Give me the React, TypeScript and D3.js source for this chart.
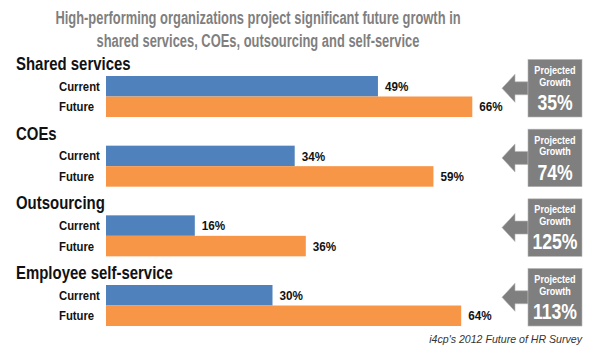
import React from "react";
import * as d3 from "d3";

const titleLines = [
  "High-performing organizations project significant future growth in",
  "shared services, COEs, outsourcing and self-service",
];
const categories = ["Shared services", "COEs", "Outsourcing", "Employee self-service"];
const seriesNames = ["Current", "Future"];
const currentValues = [49, 34, 16, 30];
const futureValues = [66, 59, 36, 64];
const projectedGrowth = [35, 74, 125, 113];
const boxLabel = ["Projected", "Growth"];
const sourceNote = "i4cp's 2012 Future of HR Survey";

const W = 600;
const H = 358;
const FONT = "'Liberation Sans', Arial, Helvetica, sans-serif";
const COLORS = ["#4f81bd", "#f79646"];
const GRAY = "#7f7f7f";

export default function App() {
  const x = d3.scaleLinear().domain([0, 100]).range([106, 661]);
  const yGroup = d3
    .scaleBand<string>()
    .domain(categories)
    .range([76, 76 + 69.67 * categories.length])
    .paddingInner(0)
    .paddingOuter(0);
  const ySeries = d3.scaleBand<string>().domain(seriesNames).range([0, 41]).padding(0);
  const seriesValues = [currentValues, futureValues];

  const boxX0 = 528;
  const boxX1 = 582;
  const boxCx = (boxX0 + boxX1) / 2;

  const sx = (
    tx: number,
    ty: number,
    k: number,
    content: string,
    props: React.SVGProps<SVGTextElement>,
    key?: string | number
  ) => (
    <g key={key} transform={`translate(${tx},${ty}) scale(${k},1)`}>
      <text x={0} y={0} {...props}>
        {content}
      </text>
    </g>
  );

  return (
    <svg
      width={W}
      height={H}
      viewBox={`0 0 ${W} ${H}`}
      style={{ position: "absolute", left: 0, top: 0, background: "#fff" }}
      fontFamily={FONT}
    >
      <rect x={0} y={0} width={W} height={H} fill="#fff" />
      {titleLines.map((t, i) =>
        sx(258, 24 + i * 23, 0.68, t, {
          textAnchor: "middle",
          fontSize: 19,
          fontWeight: "bold",
          fill: GRAY,
        }, "t" + i)
      )}

      {categories.map((cat, ci) => {
        const g0 = yGroup(cat)!;
        const gBottom = g0 + ySeries.range()[1];
        const boxTop = g0 - 16.5;
        const cy = (boxTop + gBottom) / 2;
        return (
          <g key={cat}>
            {sx(16, g0 - 6, 0.84, cat, { fontSize: 17.8, fontWeight: "bold", fill: "#111" })}
            {seriesNames.map((s, si) => {
              const y0 = g0 + ySeries(s)!;
              const bh = ySeries.bandwidth();
              const v = seriesValues[si][ci];
              return (
                <g key={s}>
                  {sx(59, y0 + bh / 2 + 4.5, 0.87, s, { fontSize: 13, fontWeight: "bold", fill: "#111" })}
                  <rect x={x(0)} y={y0} width={x(v) - x(0)} height={bh} fill={COLORS[si]} />
                  {sx(x(v) + 7, y0 + bh / 2 + 4.7, 0.9, `${v}%`, {
                    fontSize: 13,
                    fontWeight: "bold",
                    fill: "#111",
                  })}
                </g>
              );
            })}
            <path
              d={`M${boxX0},${cy - 6.5} L515,${cy - 6.5} L515,${cy - 14} L502,${cy} L515,${cy + 14} L515,${cy + 6.5} L${boxX0},${cy + 6.5} Z`}
              fill={GRAY}
              stroke="#b5b5b5"
              strokeWidth={0.6}
            />
            <rect
              x={boxX0}
              y={boxTop}
              width={boxX1 - boxX0}
              height={gBottom - boxTop}
              fill={GRAY}
              stroke="#b5b5b5"
              strokeWidth={0.6}
            />
            {boxLabel.map((b, bi) =>
              sx(boxCx, boxTop + 14.5 + bi * 11.7, 0.84, b, {
                textAnchor: "middle",
                fontSize: 10.8,
                fontWeight: "bold",
                fill: "#fff",
              }, b)
            )}
            {sx(boxCx, boxTop + 50.5, 0.8, `${projectedGrowth[ci]}%`, {
              textAnchor: "middle",
              fontSize: 22,
              fontWeight: "bold",
              fill: "#fff",
            })}
          </g>
        );
      })}

      <text
        x={582}
        y={343}
        textAnchor="end"
        fontSize={10.6}
        fontStyle="italic"
        fill="#333"
      >
        {sourceNote}
      </text>
    </svg>
  );
}
